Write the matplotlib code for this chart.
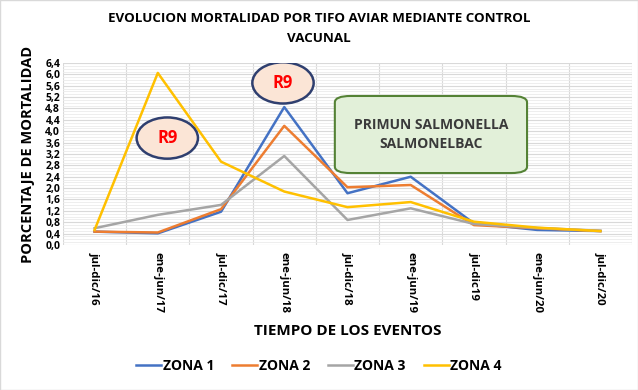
import numpy as np
import matplotlib.pyplot as plt
from matplotlib.patches import Ellipse, FancyBboxPatch, Rectangle

periodos = ['jul-dic/16', 'ene-jun/17', 'jul-dic/17', 'ene-jun/18', 'jul-dic/18',
            'ene-jun/19', 'jul-dic19', 'ene-jun/20', 'jul-dic/20']
zona1 = [0.47, 0.41, 1.17, 4.85, 1.82, 2.40, 0.76, 0.53, 0.49]
zona2 = [0.47, 0.44, 1.26, 4.19, 2.03, 2.11, 0.70, 0.59, 0.49]
zona3 = [0.59, 1.06, 1.41, 3.13, 0.88, 1.29, 0.74, 0.60, 0.50]
zona4 = [0.53, 6.05, 2.93, 1.88, 1.33, 1.51, 0.82, 0.61, 0.49]
yticks = np.arange(0, 6.41, 0.4)

plt.rcParams['font.family'] = ['Open Sans', 'DejaVu Sans']
plt.rcParams['font.weight'] = 'bold'

fig = plt.figure(figsize=(6.38, 3.90), dpi=100)
ax = fig.add_axes([0.0987, 0.3718, 0.8919, 0.4667])

x = np.arange(len(periodos))
ax.plot(x, zona1, color='#4472C4', lw=1.8, label='ZONA 1')
ax.plot(x, zona2, color='#ED7D31', lw=1.8, label='ZONA 2')
ax.plot(x, zona3, color='#A5A5A5', lw=1.8, label='ZONA 3')
ax.plot(x, zona4, color='#FFC000', lw=1.8, label='ZONA 4')

ax.set_xlim(-0.5, len(periodos) - 0.5)
ax.set_ylim(0, 6.4)
ax.set_xticks(x)
ax.set_xticklabels(periodos, rotation=-90, fontsize=8.2, fontweight='bold')
ax.set_yticks(yticks)
ax.set_yticklabels([f'{v:.1f}'.replace('.', ',') for v in yticks], fontsize=7.5, fontweight='bold')
ax.set_yticks(np.arange(0, 6.41, 0.1), minor=True)
ax.set_xticks(np.arange(-0.5, len(periodos)), minor=True)
ax.tick_params(which='both', length=0)
ax.tick_params(axis='x', pad=5)
ax.tick_params(axis='y', pad=2)
ax.grid(which='major', axis='y', color='#D9D9D9', lw=0.8)
ax.grid(which='minor', axis='y', color='#EBEBEB', lw=0.6)
ax.grid(which='minor', axis='x', color='#D9D9D9', lw=0.8)
for s in ax.spines.values():
    s.set_visible(False)
ax.set_axisbelow(True)

ax.set_xlabel('TIEMPO DE LOS EVENTOS', fontsize=11, fontweight='bold', labelpad=8)
ax.set_ylabel('PORCENTAJE DE MORTALIDAD', fontsize=10.5, fontweight='bold', labelpad=7)
fig.suptitle('EVOLUCION MORTALIDAD POR TIFO AVIAR MEDIANTE CONTROL\nVACUNAL',
             fontsize=9.6, fontweight='bold', y=0.97, linespacing=1.7)

# annotations
for cx, cy in [(1.15, 3.76), (2.98, 5.70)]:
    ax.add_patch(Ellipse((cx, cy), 0.97, 1.45, facecolor='#FBE5D6', edgecolor='#2F3F6F',
                         lw=1.8, zorder=5))
    ax.text(cx, cy, 'R9', color='#FF0000', fontsize=12, fontweight='bold',
            ha='center', va='center', zorder=6)

ax.add_patch(FancyBboxPatch((3.80, 2.53), 3.04, 2.71,
                            boxstyle='round,pad=0,rounding_size=0.25',
                            mutation_aspect=0.9, facecolor='#E2F0D9',
                            edgecolor='#548235', lw=1.5, zorder=5))
ax.text(5.32, 3.88, 'PRIMUN SALMONELLA\nSALMONELBAC', color='#3A3A3A', fontsize=10,
        fontweight='bold', ha='center', va='center', linespacing=1.5, zorder=6)

leg = fig.legend(loc='center', bbox_to_anchor=(0.5, 0.062), ncol=4, frameon=False,
                 fontsize=10, handlelength=1.8, handletextpad=0.1, columnspacing=1.3)
for t in leg.get_texts():
    t.set_fontweight('bold')

fig.patches.append(Rectangle((0, 0), 1, 1, transform=fig.transFigure, fill=False,
                             edgecolor='#D9D9D9', lw=1))

fig.savefig('out.png', dpi=100)
